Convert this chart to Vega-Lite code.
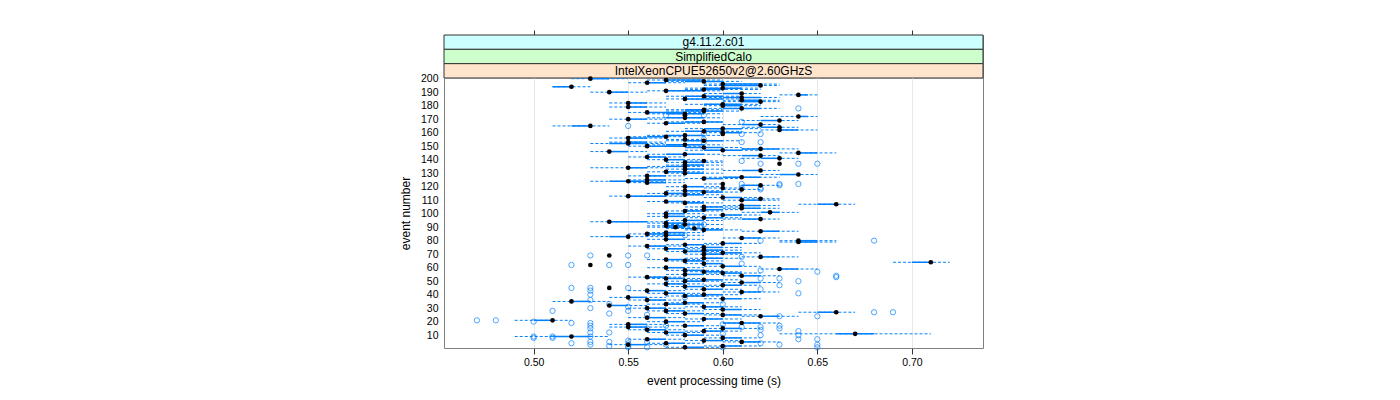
{
  "$schema": "https://vega.github.io/schema/vega-lite/v6.json",
  "padding": {"left": 398, "top": 29, "right": 5, "bottom": 5},
  "background": "white",
  "spacing": 0,
  "bounds": "flush",
  "config": {
    "font": "Liberation Sans",
    "view": {"stroke": "#808080", "strokeWidth": 1},
    "concat": {"spacing": 0}
  },
  "datasets": {
    "strips": [
      {"s": "g4.11.2.c01", "k": 1},
      {"s": "SimplifiedCalo", "k": 2},
      {"s": "IntelXeonCPUE52650v2@2.60GHzS", "k": 3}
    ],
    "box": [
      {"e":200,"lo":0.52,"q1":0.53,"m":0.53,"q3":0.54,"hi":0.55},
      {"e":199,"lo":0.56,"q1":0.57,"m":0.57,"q3":0.59,"hi":0.60},
      {"e":198,"lo":0.57,"q1":0.58,"m":0.59,"q3":0.60,"hi":0.61},
      {"e":197,"lo":0.55,"q1":0.56,"m":0.56,"q3":0.57,"hi":0.58},
      {"e":196,"lo":0.59,"q1":0.60,"m":0.60,"q3":0.62,"hi":0.63},
      {"e":195,"lo":0.59,"q1":0.60,"m":0.62,"q3":0.62,"hi":0.63},
      {"e":194,"lo":0.51,"q1":0.51,"m":0.52,"q3":0.52,"hi":0.53},
      {"e":193,"lo":0.58,"q1":0.59,"m":0.60,"q3":0.61,"hi":0.62},
      {"e":192,"lo":0.58,"q1":0.59,"m":0.59,"q3":0.60,"hi":0.62},
      {"e":191,"lo":0.56,"q1":0.57,"m":0.57,"q3":0.59,"hi":0.60},
      {"e":190,"lo":0.53,"q1":0.54,"m":0.54,"q3":0.55,"hi":0.56},
      {"e":189,"lo":0.59,"q1":0.60,"m":0.61,"q3":0.61,"hi":0.62},
      {"e":188,"lo":0.63,"q1":0.64,"m":0.64,"q3":0.645,"hi":0.65},
      {"e":187,"lo":0.57,"q1":0.58,"m":0.59,"q3":0.60,"hi":0.61},
      {"e":186,"lo":0.59,"q1":0.60,"m":0.61,"q3":0.62,"hi":0.63},
      {"e":185,"lo":0.57,"q1":0.58,"m":0.58,"q3":0.60,"hi":0.61},
      {"e":184,"lo":0.60,"q1":0.61,"m":0.61,"q3":0.62,"hi":0.63},
      {"e":183,"lo":0.60,"q1":0.61,"m":0.62,"q3":0.62,"hi":0.63},
      {"e":182,"lo":0.54,"q1":0.55,"m":0.55,"q3":0.56,"hi":0.57},
      {"e":181,"lo":0.58,"q1":0.59,"m":0.60,"q3":0.61,"hi":0.62},
      {"e":180,"lo":0.59,"q1":0.60,"m":0.60,"q3":0.61,"hi":0.62},
      {"e":179,"lo":0.54,"q1":0.55,"m":0.55,"q3":0.56,"hi":0.57},
      {"e":178,"lo":0.59,"q1":0.60,"m":0.61,"q3":0.62,"hi":0.63},
      {"e":177,"lo":0.57,"q1":0.58,"m":0.59,"q3":0.59,"hi":0.60},
      {"e":176,"lo":0.57,"q1":0.58,"m":0.59,"q3":0.60,"hi":0.61},
      {"e":175,"lo":0.55,"q1":0.56,"m":0.56,"q3":0.58,"hi":0.59},
      {"e":174,"lo":0.56,"q1":0.57,"m":0.58,"q3":0.59,"hi":0.60},
      {"e":173,"lo":0.58,"q1":0.58,"m":0.58,"q3":0.58,"hi":0.58},
      {"e":172,"lo":0.62,"q1":0.64,"m":0.64,"q3":0.645,"hi":0.65},
      {"e":171,"lo":0.56,"q1":0.57,"m":0.58,"q3":0.59,"hi":0.60},
      {"e":170,"lo":0.54,"q1":0.55,"m":0.55,"q3":0.56,"hi":0.57},
      {"e":169,"lo":0.61,"q1":0.62,"m":0.63,"q3":0.63,"hi":0.64},
      {"e":168,"lo":0.57,"q1":0.58,"m":0.59,"q3":0.60,"hi":0.60},
      {"e":167,"lo":0.56,"q1":0.57,"m":0.57,"q3":0.58,"hi":0.59},
      {"e":166,"lo":0.60,"q1":0.61,"m":0.62,"q3":0.62,"hi":0.63},
      {"e":165,"lo":0.51,"q1":0.52,"m":0.53,"q3":0.53,"hi":0.54},
      {"e":164,"lo":0.61,"q1":0.62,"m":0.63,"q3":0.63,"hi":0.64},
      {"e":163,"lo":0.58,"q1":0.59,"m":0.60,"q3":0.61,"hi":0.62},
      {"e":162,"lo":0.62,"q1":0.63,"m":0.63,"q3":0.64,"hi":0.65},
      {"e":161,"lo":0.57,"q1":0.58,"m":0.59,"q3":0.60,"hi":0.61},
      {"e":160,"lo":0.59,"q1":0.60,"m":0.60,"q3":0.61,"hi":0.62},
      {"e":159,"lo":0.60,"q1":0.60,"m":0.60,"q3":0.60,"hi":0.60},
      {"e":158,"lo":0.56,"q1":0.57,"m":0.58,"q3":0.59,"hi":0.60},
      {"e":157,"lo":0.55,"q1":0.56,"m":0.57,"q3":0.57,"hi":0.58},
      {"e":156,"lo":0.54,"q1":0.55,"m":0.55,"q3":0.56,"hi":0.57},
      {"e":155,"lo":0.57,"q1":0.58,"m":0.58,"q3":0.58,"hi":0.59},
      {"e":154,"lo":0.57,"q1":0.58,"m":0.59,"q3":0.60,"hi":0.61},
      {"e":153,"lo":0.54,"q1":0.55,"m":0.55,"q3":0.56,"hi":0.57},
      {"e":152,"lo":0.53,"q1":0.54,"m":0.55,"q3":0.56,"hi":0.57},
      {"e":151,"lo":0.56,"q1":0.57,"m":0.58,"q3":0.59,"hi":0.60},
      {"e":150,"lo":0.55,"q1":0.56,"m":0.56,"q3":0.58,"hi":0.59},
      {"e":149,"lo":0.58,"q1":0.58,"m":0.59,"q3":0.60,"hi":0.61},
      {"e":148,"lo":0.61,"q1":0.61,"m":0.62,"q3":0.63,"hi":0.64},
      {"e":147,"lo":0.58,"q1":0.59,"m":0.60,"q3":0.61,"hi":0.62},
      {"e":146,"lo":0.53,"q1":0.54,"m":0.54,"q3":0.55,"hi":0.56},
      {"e":145,"lo":0.63,"q1":0.64,"m":0.64,"q3":0.65,"hi":0.66},
      {"e":144,"lo":0.56,"q1":0.57,"m":0.58,"q3":0.59,"hi":0.60},
      {"e":143,"lo":0.60,"q1":0.61,"m":0.62,"q3":0.62,"hi":0.63},
      {"e":142,"lo":0.55,"q1":0.56,"m":0.56,"q3":0.57,"hi":0.58},
      {"e":141,"lo":0.61,"q1":0.62,"m":0.63,"q3":0.63,"hi":0.64},
      {"e":140,"lo":0.56,"q1":0.57,"m":0.57,"q3":0.58,"hi":0.59},
      {"e":139,"lo":0.58,"q1":0.59,"m":0.59,"q3":0.59,"hi":0.60},
      {"e":138,"lo":0.57,"q1":0.58,"m":0.58,"q3":0.59,"hi":0.60},
      {"e":137,"lo":0.63,"q1":0.63,"m":0.63,"q3":0.63,"hi":0.63},
      {"e":136,"lo":0.57,"q1":0.58,"m":0.58,"q3":0.59,"hi":0.60},
      {"e":135,"lo":0.56,"q1":0.57,"m":0.58,"q3":0.58,"hi":0.59},
      {"e":134,"lo":0.53,"q1":0.55,"m":0.55,"q3":0.56,"hi":0.57},
      {"e":133,"lo":0.57,"q1":0.58,"m":0.58,"q3":0.59,"hi":0.60},
      {"e":132,"lo":0.60,"q1":0.61,"m":0.62,"q3":0.62,"hi":0.63},
      {"e":131,"lo":0.56,"q1":0.57,"m":0.57,"q3":0.58,"hi":0.59},
      {"e":130,"lo":0.57,"q1":0.58,"m":0.58,"q3":0.59,"hi":0.60},
      {"e":129,"lo":0.62,"q1":0.63,"m":0.64,"q3":0.64,"hi":0.65},
      {"e":128,"lo":0.55,"q1":0.56,"m":0.56,"q3":0.57,"hi":0.58},
      {"e":127,"lo":0.59,"q1":0.60,"m":0.61,"q3":0.62,"hi":0.63},
      {"e":126,"lo":0.58,"q1":0.59,"m":0.59,"q3":0.60,"hi":0.61},
      {"e":125,"lo":0.55,"q1":0.56,"m":0.56,"q3":0.57,"hi":0.58},
      {"e":124,"lo":0.53,"q1":0.54,"m":0.55,"q3":0.56,"hi":0.57},
      {"e":123,"lo":0.55,"q1":0.56,"m":0.56,"q3":0.57,"hi":0.58},
      {"e":122,"lo":0.59,"q1":0.60,"m":0.60,"q3":0.60,"hi":0.60},
      {"e":121,"lo":0.61,"q1":0.61,"m":0.62,"q3":0.62,"hi":0.63},
      {"e":120,"lo":0.57,"q1":0.58,"m":0.58,"q3":0.59,"hi":0.60},
      {"e":119,"lo":0.59,"q1":0.60,"m":0.60,"q3":0.60,"hi":0.61},
      {"e":118,"lo":0.60,"q1":0.61,"m":0.61,"q3":0.61,"hi":0.62},
      {"e":117,"lo":0.57,"q1":0.58,"m":0.58,"q3":0.59,"hi":0.60},
      {"e":116,"lo":0.58,"q1":0.59,"m":0.59,"q3":0.60,"hi":0.61},
      {"e":115,"lo":0.56,"q1":0.57,"m":0.57,"q3":0.58,"hi":0.59},
      {"e":114,"lo":0.57,"q1":0.58,"m":0.58,"q3":0.59,"hi":0.60},
      {"e":113,"lo":0.54,"q1":0.55,"m":0.55,"q3":0.57,"hi":0.58},
      {"e":112,"lo":0.59,"q1":0.60,"m":0.60,"q3":0.61,"hi":0.62},
      {"e":111,"lo":0.61,"q1":0.62,"m":0.62,"q3":0.62,"hi":0.63},
      {"e":110,"lo":0.60,"q1":0.61,"m":0.61,"q3":0.62,"hi":0.63},
      {"e":109,"lo":0.56,"q1":0.57,"m":0.57,"q3":0.58,"hi":0.59},
      {"e":108,"lo":0.57,"q1":0.58,"m":0.58,"q3":0.59,"hi":0.60},
      {"e":107,"lo":0.64,"q1":0.65,"m":0.66,"q3":0.66,"hi":0.67},
      {"e":106,"lo":0.60,"q1":0.61,"m":0.61,"q3":0.62,"hi":0.63},
      {"e":105,"lo":0.58,"q1":0.59,"m":0.59,"q3":0.60,"hi":0.61},
      {"e":104,"lo":0.60,"q1":0.61,"m":0.61,"q3":0.62,"hi":0.63},
      {"e":103,"lo":0.58,"q1":0.59,"m":0.59,"q3":0.60,"hi":0.61},
      {"e":102,"lo":0.57,"q1":0.58,"m":0.58,"q3":0.59,"hi":0.60},
      {"e":101,"lo":0.61,"q1":0.62,"m":0.625,"q3":0.63,"hi":0.64},
      {"e":100,"lo":0.56,"q1":0.57,"m":0.57,"q3":0.58,"hi":0.59},
      {"e":99,"lo":0.59,"q1":0.60,"m":0.60,"q3":0.61,"hi":0.62},
      {"e":98,"lo":0.56,"q1":0.57,"m":0.57,"q3":0.58,"hi":0.59},
      {"e":97,"lo":0.58,"q1":0.59,"m":0.59,"q3":0.60,"hi":0.61},
      {"e":96,"lo":0.60,"q1":0.61,"m":0.62,"q3":0.62,"hi":0.63},
      {"e":95,"lo":0.57,"q1":0.58,"m":0.58,"q3":0.59,"hi":0.60},
      {"e":94,"lo":0.53,"q1":0.54,"m":0.54,"q3":0.56,"hi":0.57},
      {"e":93,"lo":0.56,"q1":0.57,"m":0.57,"q3":0.58,"hi":0.59},
      {"e":92,"lo":0.57,"q1":0.58,"m":0.58,"q3":0.59,"hi":0.60},
      {"e":91,"lo":0.56,"q1":0.57,"m":0.57,"q3":0.58,"hi":0.59},
      {"e":90,"lo":0.56,"q1":0.57,"m":0.575,"q3":0.58,"hi":0.59},
      {"e":89,"lo":0.57,"q1":0.58,"m":0.585,"q3":0.59,"hi":0.60},
      {"e":88,"lo":0.58,"q1":0.59,"m":0.59,"q3":0.60,"hi":0.61},
      {"e":87,"lo":0.61,"q1":0.62,"m":0.62,"q3":0.63,"hi":0.64},
      {"e":86,"lo":0.56,"q1":0.57,"m":0.57,"q3":0.58,"hi":0.59},
      {"e":85,"lo":0.55,"q1":0.56,"m":0.56,"q3":0.57,"hi":0.58},
      {"e":84,"lo":0.56,"q1":0.57,"m":0.57,"q3":0.58,"hi":0.59},
      {"e":83,"lo":0.53,"q1":0.54,"m":0.55,"q3":0.55,"hi":0.57},
      {"e":82,"lo":0.60,"q1":0.61,"m":0.61,"q3":0.62,"hi":0.63},
      {"e":81,"lo":0.56,"q1":0.57,"m":0.57,"q3":0.58,"hi":0.59},
      {"e":80,"lo":0.63,"q1":0.64,"m":0.64,"q3":0.65,"hi":0.66},
      {"e":79,"lo":0.63,"q1":0.64,"m":0.64,"q3":0.65,"hi":0.66},
      {"e":78,"lo":0.59,"q1":0.60,"m":0.60,"q3":0.61,"hi":0.62},
      {"e":77,"lo":0.57,"q1":0.58,"m":0.58,"q3":0.59,"hi":0.60},
      {"e":76,"lo":0.55,"q1":0.56,"m":0.56,"q3":0.57,"hi":0.58},
      {"e":75,"lo":0.58,"q1":0.59,"m":0.59,"q3":0.60,"hi":0.61},
      {"e":74,"lo":0.56,"q1":0.57,"m":0.57,"q3":0.58,"hi":0.59},
      {"e":73,"lo":0.58,"q1":0.59,"m":0.59,"q3":0.60,"hi":0.61},
      {"e":72,"lo":0.57,"q1":0.58,"m":0.58,"q3":0.59,"hi":0.60},
      {"e":71,"lo":0.59,"q1":0.60,"m":0.60,"q3":0.61,"hi":0.62},
      {"e":70,"lo":0.58,"q1":0.59,"m":0.59,"q3":0.60,"hi":0.61},
      {"e":69,"lo":0.54,"q1":0.54,"m":0.54,"q3":0.54,"hi":0.54},
      {"e":68,"lo":0.61,"q1":0.62,"m":0.62,"q3":0.63,"hi":0.64},
      {"e":67,"lo":0.58,"q1":0.59,"m":0.59,"q3":0.60,"hi":0.61},
      {"e":66,"lo":0.56,"q1":0.57,"m":0.57,"q3":0.58,"hi":0.59},
      {"e":65,"lo":0.57,"q1":0.58,"m":0.58,"q3":0.59,"hi":0.60},
      {"e":64,"lo":0.69,"q1":0.70,"m":0.71,"q3":0.71,"hi":0.72},
      {"e":63,"lo":0.58,"q1":0.59,"m":0.59,"q3":0.60,"hi":0.60},
      {"e":62,"lo":0.53,"q1":0.53,"m":0.53,"q3":0.53,"hi":0.53},
      {"e":61,"lo":0.59,"q1":0.60,"m":0.60,"q3":0.61,"hi":0.62},
      {"e":60,"lo":0.56,"q1":0.57,"m":0.57,"q3":0.58,"hi":0.59},
      {"e":59,"lo":0.62,"q1":0.63,"m":0.63,"q3":0.64,"hi":0.65},
      {"e":58,"lo":0.57,"q1":0.58,"m":0.58,"q3":0.59,"hi":0.60},
      {"e":57,"lo":0.58,"q1":0.59,"m":0.59,"q3":0.60,"hi":0.61},
      {"e":56,"lo":0.59,"q1":0.60,"m":0.60,"q3":0.61,"hi":0.62},
      {"e":55,"lo":0.57,"q1":0.58,"m":0.58,"q3":0.59,"hi":0.60},
      {"e":54,"lo":0.60,"q1":0.61,"m":0.61,"q3":0.62,"hi":0.63},
      {"e":53,"lo":0.55,"q1":0.56,"m":0.56,"q3":0.57,"hi":0.58},
      {"e":52,"lo":0.56,"q1":0.57,"m":0.57,"q3":0.58,"hi":0.59},
      {"e":51,"lo":0.58,"q1":0.59,"m":0.59,"q3":0.60,"hi":0.61},
      {"e":50,"lo":0.57,"q1":0.58,"m":0.58,"q3":0.59,"hi":0.60},
      {"e":49,"lo":0.60,"q1":0.61,"m":0.61,"q3":0.62,"hi":0.63},
      {"e":48,"lo":0.56,"q1":0.57,"m":0.57,"q3":0.58,"hi":0.59},
      {"e":47,"lo":0.59,"q1":0.60,"m":0.60,"q3":0.61,"hi":0.62},
      {"e":46,"lo":0.57,"q1":0.58,"m":0.58,"q3":0.59,"hi":0.60},
      {"e":45,"lo":0.54,"q1":0.54,"m":0.54,"q3":0.54,"hi":0.54},
      {"e":44,"lo":0.58,"q1":0.59,"m":0.59,"q3":0.60,"hi":0.61},
      {"e":43,"lo":0.55,"q1":0.56,"m":0.56,"q3":0.57,"hi":0.58},
      {"e":42,"lo":0.60,"q1":0.61,"m":0.61,"q3":0.62,"hi":0.63},
      {"e":41,"lo":0.56,"q1":0.57,"m":0.57,"q3":0.58,"hi":0.59},
      {"e":40,"lo":0.58,"q1":0.59,"m":0.59,"q3":0.60,"hi":0.61},
      {"e":39,"lo":0.57,"q1":0.58,"m":0.58,"q3":0.59,"hi":0.60},
      {"e":38,"lo":0.54,"q1":0.55,"m":0.55,"q3":0.56,"hi":0.57},
      {"e":37,"lo":0.59,"q1":0.60,"m":0.60,"q3":0.61,"hi":0.62},
      {"e":36,"lo":0.55,"q1":0.56,"m":0.56,"q3":0.57,"hi":0.58},
      {"e":35,"lo":0.51,"q1":0.52,"m":0.52,"q3":0.53,"hi":0.54},
      {"e":34,"lo":0.57,"q1":0.58,"m":0.58,"q3":0.59,"hi":0.60},
      {"e":33,"lo":0.56,"q1":0.57,"m":0.57,"q3":0.58,"hi":0.59},
      {"e":32,"lo":0.54,"q1":0.54,"m":0.54,"q3":0.55,"hi":0.56},
      {"e":31,"lo":0.58,"q1":0.59,"m":0.59,"q3":0.60,"hi":0.61},
      {"e":30,"lo":0.55,"q1":0.56,"m":0.56,"q3":0.57,"hi":0.58},
      {"e":29,"lo":0.59,"q1":0.60,"m":0.60,"q3":0.61,"hi":0.62},
      {"e":28,"lo":0.56,"q1":0.57,"m":0.57,"q3":0.58,"hi":0.59},
      {"e":27,"lo":0.64,"q1":0.65,"m":0.66,"q3":0.66,"hi":0.67},
      {"e":26,"lo":0.57,"q1":0.58,"m":0.58,"q3":0.59,"hi":0.60},
      {"e":25,"lo":0.59,"q1":0.60,"m":0.60,"q3":0.61,"hi":0.62},
      {"e":24,"lo":0.61,"q1":0.62,"m":0.62,"q3":0.63,"hi":0.64},
      {"e":23,"lo":0.55,"q1":0.56,"m":0.56,"q3":0.57,"hi":0.58},
      {"e":22,"lo":0.58,"q1":0.59,"m":0.59,"q3":0.60,"hi":0.61},
      {"e":21,"lo":0.49,"q1":0.50,"m":0.51,"q3":0.51,"hi":0.52},
      {"e":20,"lo":0.56,"q1":0.57,"m":0.57,"q3":0.58,"hi":0.59},
      {"e":19,"lo":0.60,"q1":0.60,"m":0.61,"q3":0.62,"hi":0.63},
      {"e":18,"lo":0.54,"q1":0.55,"m":0.55,"q3":0.56,"hi":0.57},
      {"e":17,"lo":0.57,"q1":0.58,"m":0.58,"q3":0.59,"hi":0.60},
      {"e":16,"lo":0.54,"q1":0.55,"m":0.55,"q3":0.56,"hi":0.57},
      {"e":15,"lo":0.59,"q1":0.60,"m":0.60,"q3":0.61,"hi":0.62},
      {"e":14,"lo":0.55,"q1":0.56,"m":0.56,"q3":0.57,"hi":0.58},
      {"e":13,"lo":0.58,"q1":0.59,"m":0.59,"q3":0.60,"hi":0.61},
      {"e":12,"lo":0.56,"q1":0.57,"m":0.57,"q3":0.58,"hi":0.59},
      {"e":11,"lo":0.63,"q1":0.66,"m":0.67,"q3":0.68,"hi":0.71},
      {"e":10,"lo":0.57,"q1":0.58,"m":0.58,"q3":0.59,"hi":0.60},
      {"e":9,"lo":0.49,"q1":0.51,"m":0.52,"q3":0.53,"hi":0.54},
      {"e":8,"lo":0.59,"q1":0.60,"m":0.60,"q3":0.61,"hi":0.62},
      {"e":7,"lo":0.55,"q1":0.56,"m":0.56,"q3":0.57,"hi":0.58},
      {"e":6,"lo":0.58,"q1":0.59,"m":0.59,"q3":0.60,"hi":0.61},
      {"e":5,"lo":0.60,"q1":0.61,"m":0.61,"q3":0.62,"hi":0.63},
      {"e":4,"lo":0.56,"q1":0.57,"m":0.57,"q3":0.58,"hi":0.59},
      {"e":3,"lo":0.54,"q1":0.55,"m":0.55,"q3":0.56,"hi":0.57},
      {"e":2,"lo":0.59,"q1":0.60,"m":0.60,"q3":0.61,"hi":0.62},
      {"e":1,"lo":0.57,"q1":0.58,"m":0.58,"q3":0.59,"hi":0.60}
    ],
    "out": [
      {"e":178,"v":0.64},{"e":173,"v":0.57},{"e":173,"v":0.59},{"e":168,"v":0.61},{"e":165,"v":0.55},
      {"e":159,"v":0.59},{"e":159,"v":0.61},{"e":159,"v":0.62},{"e":155,"v":0.59},
      {"e":153,"v":0.59},{"e":153,"v":0.61},{"e":153,"v":0.62},{"e":139,"v":0.61},
      {"e":137,"v":0.62},{"e":137,"v":0.64},{"e":137,"v":0.65},
      {"e":122,"v":0.61},{"e":122,"v":0.63},{"e":122,"v":0.64},{"e":121,"v":0.63},
      {"e":119,"v":0.61},{"e":119,"v":0.62},{"e":118,"v":0.62},
      {"e":92,"v":0.59},{"e":84,"v":0.58},{"e":80,"v":0.62},{"e":80,"v":0.68},
      {"e":69,"v":0.53},{"e":69,"v":0.55},{"e":69,"v":0.56},{"e":68,"v":0.61},{"e":63,"v":0.61},
      {"e":62,"v":0.52},{"e":62,"v":0.54},{"e":62,"v":0.55},
      {"e":58,"v":0.62},{"e":57,"v":0.65},{"e":54,"v":0.66},{"e":52,"v":0.62},{"e":52,"v":0.63},{"e":53,"v":0.66},
      {"e":50,"v":0.64},{"e":47,"v":0.63},{"e":45,"v":0.52},{"e":45,"v":0.53},{"e":45,"v":0.55},
      {"e":44,"v":0.62},{"e":43,"v":0.53},{"e":41,"v":0.64},{"e":40,"v":0.53},{"e":38,"v":0.58},
      {"e":36,"v":0.53},{"e":33,"v":0.54},{"e":33,"v":0.60},{"e":31,"v":0.55},{"e":30,"v":0.53},
      {"e":28,"v":0.51},{"e":28,"v":0.55},{"e":27,"v":0.68},{"e":27,"v":0.69},{"e":26,"v":0.54},
      {"e":25,"v":0.56},{"e":24,"v":0.63},{"e":24,"v":0.65},{"e":21,"v":0.47},{"e":21,"v":0.48},
      {"e":20,"v":0.50},{"e":19,"v":0.52},{"e":19,"v":0.53},{"e":18,"v":0.60},
      {"e":17,"v":0.53},{"e":17,"v":0.57},{"e":17,"v":0.63},{"e":16,"v":0.61},{"e":16,"v":0.62},
      {"e":15,"v":0.53},{"e":15,"v":0.56},{"e":15,"v":0.63},{"e":14,"v":0.62},{"e":13,"v":0.64},
      {"e":12,"v":0.53},{"e":12,"v":0.54},{"e":11,"v":0.60},{"e":10,"v":0.62},{"e":10,"v":0.64},
      {"e":9,"v":0.50},{"e":9,"v":0.51},{"e":9,"v":0.53},{"e":8,"v":0.50},{"e":8,"v":0.51},
      {"e":7,"v":0.64},{"e":7,"v":0.65},{"e":6,"v":0.55},{"e":5,"v":0.53},{"e":5,"v":0.54},{"e":5,"v":0.56},
      {"e":4,"v":0.52},{"e":4,"v":0.55},{"e":4,"v":0.62},{"e":3,"v":0.53},{"e":3,"v":0.57},{"e":3,"v":0.63},{"e":3,"v":0.65},
      {"e":2,"v":0.54},{"e":2,"v":0.55},{"e":1,"v":0.55},{"e":1,"v":0.56},{"e":1,"v":0.60},{"e":1,"v":0.65}
    ]
  },
  "vconcat": [
    {
      "width": 539,
      "height": 43,
      "data": {"name": "strips"},
      "encoding": {
        "y": {"field": "s", "type": "nominal", "sort": {"field": "k", "order": "ascending"},
              "scale": {"paddingInner": 0, "paddingOuter": 0}, "axis": null}
      },
      "layer": [
        {
          "mark": {"type": "rect", "stroke": "#333333", "strokeWidth": 1},
          "encoding": {
            "x": {"datum": 0.4526, "type": "quantitative",
                  "scale": {"domain": [0.4526, 0.7376], "nice": false, "zero": false},
                  "axis": {"orient": "top", "values": [0.5, 0.55, 0.6, 0.65, 0.7], "labels": false,
                           "ticks": true, "tickSize": 5, "tickColor": "#333333", "domain": false,
                           "grid": false, "title": null}},
            "x2": {"datum": 0.7376},
            "fill": {"field": "s", "type": "nominal",
                     "scale": {"domain": ["g4.11.2.c01", "SimplifiedCalo", "IntelXeonCPUE52650v2@2.60GHzS"],
                               "range": ["#ccffff", "#ccffcc", "#ffe5cc"]},
                     "legend": null}
          }
        },
        {
          "mark": {"type": "text", "font": "Liberation Sans", "fontSize": 12, "align": "center", "baseline": "middle", "color": "black"},
          "encoding": {
            "x": {"datum": 0.5951, "type": "quantitative"},
            "text": {"field": "s"}
          }
        }
      ]
    },
    {
      "width": 539,
      "height": 270,
      "encoding": {
        "y": {"field": "e", "type": "quantitative",
              "scale": {"domain": [0.5, 200.5], "nice": false, "zero": false},
              "axis": {"values": [10,20,30,40,50,60,70,80,90,100,110,120,130,140,150,160,170,180,190,200],
                       "title": "event number", "titleFont": "Liberation Sans", "titleFontSize": 12, "titleFontWeight": "normal",
                       "titleColor": "black", "titlePadding": 8,
                       "labelFont": "Liberation Sans", "labelFontSize": 10.5, "labelColor": "black",
                       "ticks": false, "tickSize": 0, "labelPadding": 6, "domain": false, "grid": false}}
      },
      "layer": [
        {
          "data": {"name": "box"},
          "mark": {"type": "rule", "color": "#0080ff", "strokeWidth": 1, "strokeDash": [3, 2]},
          "encoding": {
            "x": {"field": "lo", "type": "quantitative",
                  "scale": {"domain": [0.4526, 0.7376], "nice": false, "zero": false},
                  "axis": {"values": [0.5, 0.55, 0.6, 0.65, 0.7], "format": ".2f",
                           "title": "event processing time (s)", "titleFont": "Liberation Sans", "titleFontSize": 12,
                           "titleFontWeight": "normal", "titleColor": "black", "titlePadding": 8,
                           "labelFont": "Liberation Sans", "labelFontSize": 10.5, "labelColor": "black",
                           "tickSize": 6, "tickColor": "#333333", "labelPadding": 3, "domain": false,
                           "grid": true, "gridColor": "#e8e8e8", "gridWidth": 1}},
            "x2": {"field": "hi"}
          }
        },
        {
          "data": {"name": "box"},
          "mark": {"type": "rule", "color": "#0080ff", "strokeWidth": 1.5},
          "encoding": {
            "x": {"field": "q1", "type": "quantitative"},
            "x2": {"field": "q3"}
          }
        },
        {
          "data": {"name": "out"},
          "mark": {"type": "point", "shape": "circle", "filled": false, "color": "#0080ff", "strokeWidth": 1, "size": 28},
          "encoding": {
            "x": {"field": "v", "type": "quantitative"}
          }
        },
        {
          "data": {"name": "box"},
          "mark": {"type": "point", "shape": "circle", "filled": true, "color": "black", "opacity": 1, "size": 22},
          "encoding": {
            "x": {"field": "m", "type": "quantitative"}
          }
        }
      ]
    }
  ]
}
